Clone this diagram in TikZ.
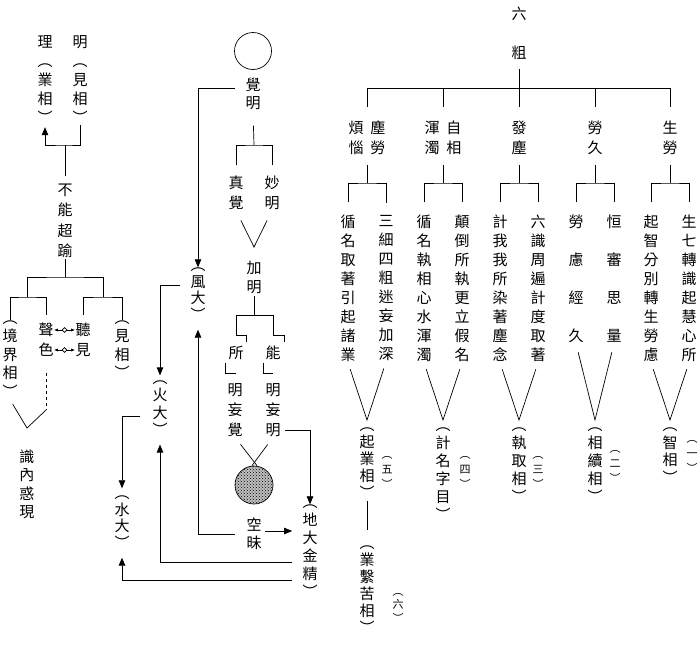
\documentclass[tikz,border=0pt]{standalone}
\usepackage{fontspec}
\newfontfamily\cjk{Noto Sans CJK TC}
\usetikzlibrary{arrows.meta,patterns,shapes.geometric}
\newcommand\cstrut{\rule[-0.12em]{0pt}{1em}}

\begin{document}
\begin{tikzpicture}[x=1pt,y=-1pt,line width=0.7pt,
    col/.style={align=center,inner sep=0pt,font=\cjk\fontsize{15}{#1}\selectfont,
      execute at begin node=\cstrut,execute at end node=\cstrut},
    col/.default=19,
    small/.style={align=center,inner sep=0pt,font=\cjk\fontsize{11}{#1}\selectfont,
      execute at begin node=\cstrut,execute at end node=\cstrut},
    small/.default=15,
    arr/.style={-{Triangle[length=8pt,width=6.5pt]}}]

      \useasboundingbox (0,0) rectangle (698,648);

      % left side
      \node[col] (1) at (45,80) {理\\︵\\業\\相\\︶};
      \node[col] (2) at (80,80) {明\\︵\\見\\相\\︶};
      \node[col=20.5] (3) at (65,221) {不\\能\\超\\踰};
      \node[col=18.5] (4) at (10,360) {︵\\境\\界\\相\\︶};
      \node[col=20] (5) at (46,340) {聲\\色};
      \node[col=20] (6) at (83,340) {聽\\見};
      \node[col=18.3] (7) at (122,350.5) {︵\\見\\相\\︶};
      \node[col=18.3] (8) at (27,484.5) {識\\內\\惑\\現};

      % middle
      \node[circle,draw,minimum size=37pt,inner sep=0pt] (9) at (253,51) {};
      \node[col=18] (10) at (253,94) {覺\\明};
      \node[col=20] (11) at (236,193) {真\\覺};
      \node[col=20] (12) at (272,193) {妙\\明};
      \node[col] (13) at (254,277.5) {加\\明};
      \node[col] (14) at (236,353) {所};
      \node[col] (15) at (273,353) {能};
      \node[col=20] (16) at (235,410) {明\\妄\\覺};
      \node[col=20] (17) at (273,410) {明\\妄\\明};
      \node[circle,draw,preaction={fill=black!25},pattern=crosshatch dots,minimum size=38pt,inner sep=0pt] (18) at (254,485) {};
      \node[col=18] (19) at (254,534) {空\\昧};
      \node[col=16.7] (20) at (198,295) {︵\\風\\大\\︶};
      \node[col=17.3] (21) at (160,409) {︵\\火\\大\\︶};
      \node[col=16.7] (22) at (122,523) {︵\\水\\大\\︶};
      \node[col=18] (23) at (310,552) {︵\\地\\大\\金\\精\\︶};

      % right side
      \node[col=39] (24) at (519,33.5) {六\\粗};
      \begin{scope}[every node/.style={col=20}]
        \node (25) at (367,138) {煩\hspace{7pt}塵\\惱\hspace{7pt}勞};
        \node (26) at (443,138) {渾\hspace{7pt}自\\濁\hspace{7pt}相};
        \node (27) at (519,138) {發\\塵};
        \node (28) at (595,138) {勞\\久};
        \node (29) at (670,138) {生\\勞};
      \end{scope}

      \begin{scope}[every node/.style={col}]
        \node (30) at (348,288.5) {循\\名\\取\\著\\引\\起\\諸\\業};
        \node (31) at (386,288.5) {三\\細\\四\\粗\\迷\\妄\\加\\深};
        \node (32) at (424,288.5) {循\\名\\執\\相\\心\\水\\渾\\濁};
        \node (33) at (462,288.5) {顛\\倒\\所\\執\\更\\立\\假\\名};
        \node (34) at (500,288.5) {計\\我\\我\\所\\染\\著\\塵\\念};
        \node (35) at (538,288.5) {六\\識\\周\\遍\\計\\度\\取\\著};
        \node[col=38] (36) at (576,279) {勞\\慮\\經\\久};
        \node[col=38] (37) at (614,279) {恒\\審\\思\\量};
        \node (38) at (651,288.5) {起\\智\\分\\別\\轉\\生\\勞\\慮};
        \node (39) at (689,288.5) {生\\七\\轉\\識\\起\\慧\\心\\所};
      \end{scope}

      \node[col=17] (40) at (367,464) {︵\\起\\業\\相\\︶};
      \node[small] (41) at (387,473) {︵\\五\\︶};
      \node[col=17] (42) at (367,590.5) {︵\\業\\繫\\苦\\相\\︶};
      \node[small=13.5] (43) at (398,608.5) {︵\\六\\︶};
      \node[col=18] (44) at (443,475) {︵\\計\\名\\字\\目\\︶};
      \node[small] (45) at (465,473) {︵\\四\\︶};
      \node[col=18] (46) at (519,466) {︵\\執\\取\\相\\︶};
      \node[small] (47) at (538,473) {︵\\三\\︶};
      \node[col=18] (48) at (595,466) {︵\\相\\續\\相\\︶};
      \node[small] (49) at (615,467) {︵\\二\\︶};
      \node[col=17.7] (50) at (670,456.5) {︵\\智\\相\\︶};
      \node[small] (51) at (692,457.5) {︵\\一\\︶};

      % junctions
      \coordinate (a1) at (65,145);
      \coordinate (a2) at (65,277);
      \coordinate (a3) at (27,297);
      \coordinate (a4) at (103,297);
      \coordinate (a5) at (46,410);
      \coordinate (a6) at (27,428);
      \coordinate (b1) at (254,145);
      \coordinate (b2) at (254,247);
      \coordinate (b3) at (254,315);
      \coordinate (e1) at ([yshift=3]19.east);
      \coordinate (c0) at (519,88);
      \coordinate (c1) at (367,183);
      \coordinate (c2) at (443,183);
      \coordinate (c3) at (519,183);
      \coordinate (c4) at (595,183);
      \coordinate (c5) at (670,183);
      \coordinate (v1) at (367,420);
      \coordinate (v2) at (443,420);
      \coordinate (v3) at (519,420);
      \coordinate (v4) at (595,420);
      \coordinate (v5) at (670,420);

      % left connectors
      \draw[arr,shorten >=2pt] (2.south) |- (a1) -| (1.south);
      \draw[shorten <=7pt] (3.north) -- (a1);
      \draw (3.south) -- (a2);
      \draw (a3) |- (a2) -| (a4);
      \draw[shorten >=7pt] (4.north) |- (a3) -| (5.north);
      \draw[shorten <=7pt] (6.north) |- (a4) -| (7.north);
      \draw[{Latex[length=4pt]}-{Latex[length=4pt]}] ([yshift=10]5.east) -- node[diamond,draw,fill=white,inner sep=1.3pt] (d1) {} ([yshift=10]6.west);
      \draw[{Latex[length=4pt]}-{Latex[length=4pt]}] ([yshift=-10]5.east) -- node[diamond,draw,fill=white,inner sep=1.3pt] (d2) {} ([yshift=-10]6.west);
      \draw[dashed,shorten <=15pt] (5.south) -- (a5);
      \draw[shorten <=5pt] (4.south) -- (a6) -- (a5);

      % middle connectors
      \draw[arr,shorten <=10pt] ([yshift=6]10.west) -| (20.north);
      \draw[shorten <=15pt] (10.south) -- (b1);
      \draw[shorten <=10pt,shorten >=10pt] (11.north) |- (b1) -| (12.north);
      \draw[shorten <=11pt,shorten >=11pt] (11.south) -- (b2) -- (12.south);
      \draw[shorten <=2pt] (13.south) -- (b3);
      \draw (b3) -| ([yshift=10]14.north) -| ([xshift=10,yshift=3]14.north);
      \draw ([xshift=-11,yshift=-2]14.south) |- ([yshift=-12]14.south);
      \draw (b3) -| ([yshift=10]15.north) -| ([xshift=11,yshift=3]15.north);
      \draw ([xshift=-10,yshift=-2]15.south) |- ([yshift=-12]15.south);
      \draw[shorten <=9pt] (16.south) -- ([xshift=3]18.north);
      \draw[shorten <=9pt] (17.south) -- ([xshift=-2]18.north);
      \draw[arr,shorten <=4pt] ([yshift=-20]17.east) -| (23.north);
      \draw[arr,shorten <=3pt,shorten >=10pt] (e1) -- (e1 -| 23.west);
      \draw[arr,shorten <=11pt,shorten >=7pt] (19.west) -| (20.south);
      \draw[arr,shorten <=10pt,shorten >=7pt] ([yshift=-10]23.west) -| (21.south);
      \draw[arr,shorten <=10pt,shorten >=7pt] ([yshift=-28]23.west) -| (22.south);
      \draw[arr,shorten <=10pt,shorten >=5pt] ([yshift=10]20.west) -| (21.north);
      \draw[arr,shorten <=12pt,shorten >=7pt] ([yshift=-7]21.west) -| (22.north);

      % right connectors
      \draw[shorten <=8pt] (24.south) -- (c0);
      \draw[shorten >=13pt] (c0) -| (25.north);
      \draw[shorten >=13pt] (c0) -| (26.north);
      \draw[shorten >=13pt] (c0) -- (27.north);
      \draw[shorten >=13pt] (c0) -| (28.north);
      \draw[shorten >=13pt] (c0) -| (29.north);

      \draw[shorten <=9pt] (25.south) -- (c1);
      \draw[shorten <=9pt] (26.south) -- (c2);
      \draw[shorten <=9pt] (27.south) -- (c3);
      \draw[shorten <=9pt] (28.south) -- (c4);
      \draw[shorten <=9pt] (29.south) -- (c5);

      \draw[shorten <=12pt,shorten >=12pt] (30.north) |- (c1) -| (31.north);
      \draw[shorten <=12pt,shorten >=12pt] (32.north) |- (c2) -| (33.north);
      \draw[shorten <=12pt,shorten >=12pt] (34.north) |- (c3) -| (35.north);
      \draw[shorten <=12pt,shorten >=12pt] (36.north) |- (c4) -| (37.north);
      \draw[shorten <=12pt,shorten >=12pt] (38.north) |- (c5) -| (39.north);

      \draw[shorten <=7pt,shorten >=7pt] (30.south) -- (v1) -- (31.south);
      \draw[shorten <=7pt,shorten >=7pt] (32.south) -- (v2) -- (33.south);
      \draw[shorten <=7pt,shorten >=7pt] (34.south) -- (v3) -- (35.south);
      \draw[shorten <=9pt,shorten >=9pt] (36.south) -- (v4) -- (37.south);
      \draw[shorten <=7pt,shorten >=7pt] (38.south) -- (v5) -- (39.south);

      \draw[shorten >=15pt] (40.south) -- (42.north);

    \end{tikzpicture}
\end{document}
